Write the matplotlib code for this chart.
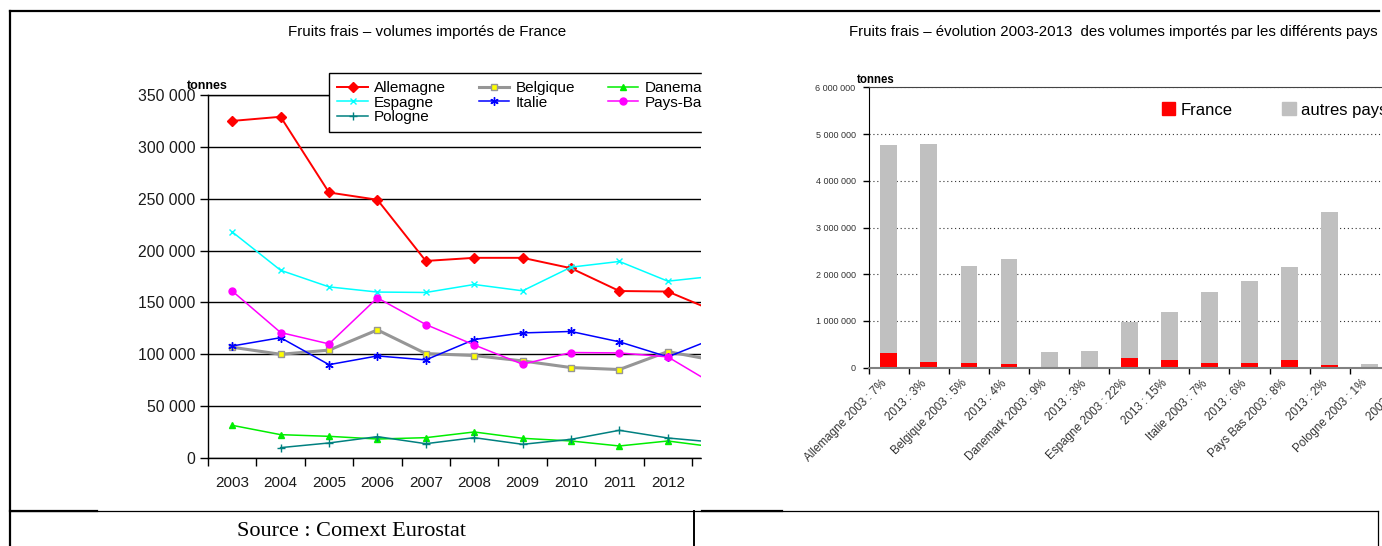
import matplotlib
matplotlib.use("Agg")
import matplotlib.pyplot as plt
import numpy as np
from matplotlib.lines import Line2D
from matplotlib.patches import Rectangle, Patch

W, H = 1382, 546

# left chart: volumes imported from France (tonnes)
years = [2003, 2004, 2005, 2006, 2007, 2008, 2009, 2010, 2011, 2012, 2013]
allemagne = [325000, 329000, 256000, 249000, 190000, 193000, 193000, 183000, 161000, 160500, 141000]
belgique = [106800, 100000, 104000, 123500, 100700, 98800, 93600, 87200, 85300, 102600, 93800]
danemark = [31500, 22500, 20900, 18300, 19600, 25100, 19000, 16400, 11600, 16400, 10400]
espagne = [218000, 181000, 165000, 160000, 159600, 167300, 161200, 184000, 189500, 170500, 175500]
italie = [108000, 116000, 90000, 98400, 94600, 114200, 120600, 122000, 112000, 97500, 116000]
pays_bas = [161000, 121000, 110000, 154400, 128700, 109000, 90400, 101700, 101300, 97500, 69700]
pologne = [np.nan, 10000, 14500, 20600, 13800, 19600, 13200, 18000, 26700, 19300, 15100]

# right chart: total imports per country, part coming from France
bar_labels = ["Allemagne 2003 : 7%", "2013 : 3%", "Belgique 2003 : 5%", "2013 : 4%",
              "Danemark 2003 : 9%", "2013 : 3%", "Espagne 2003 : 22%", "2013 : 15%",
              "Italie 2003 : 7%", "2013 : 6%", "Pays Bas 2003 : 8%", "2013 : 2%",
              "Pologne 2003 : 1%", "2003 : 1%"]
total = [4766000, 4787000, 2176000, 2326000, 335000, 357000, 977000, 1191000,
         1619000, 1855000, 2154000, 3332000, 80000, 1000000]
france = [320000, 130000, 95000, 88000, 25000, 8000, 200000, 165000,
          95000, 110000, 165000, 65000, 1000, 15000]

plt.rcParams["font.family"] = ["Liberation Sans", "DejaVu Sans"]

fig = plt.figure(figsize=(W / 100, H / 100), dpi=100)


def fx(x):
    return x / W


def fy(y):
    return 1 - y / H


def thousands(v):
    return "{:,}".format(int(v)).replace(",", " ")


# ---------------- left chart ----------------
ax1 = fig.add_axes([fx(208), 88 / H, (701 - 208) / W, 363 / H])
series = [
    ("Allemagne", allemagne, dict(color="#ff0000", marker="D", ms=5.5, lw=1.4)),
    ("Belgique", belgique, dict(color="#969696", marker="s", ms=4.5, lw=2.2,
                                mfc="#ffff00", mec="#969696", mew=1)),
    ("Danemark", danemark, dict(color="#00ee00", marker="^", ms=5, lw=1.1)),
    ("Espagne", espagne, dict(color="#00ffff", marker="x", ms=5, lw=1.1)),
    ("Italie", italie, dict(color="#0000ff", marker=(6, 2, 0), ms=6, lw=1.1)),
    ("Pays-Bas", pays_bas, dict(color="#ff00ff", marker="o", ms=5, lw=1.1)),
    ("Pologne", pologne, dict(color="#008080", marker="+", ms=6, lw=1.1)),
]
handles = {}
for name, vals, style in series:
    (ln,) = ax1.plot(years, vals, label=name, **style)
    handles[name] = ln

ax1.set_yticks(np.arange(0, 350001, 50000))
ax1.set_yticklabels([thousands(v) for v in np.arange(0, 350001, 50000)])
ax1.yaxis.grid(True, color="black", lw=1)
ax1.set_axisbelow(True)
ax1.set_xticks(np.arange(2002.5, 2013.6, 1))
ax1.set_xticklabels([])
ax1.set_xticks(years, minor=True)
ax1.set_xticklabels([str(y) for y in years], minor=True)
# the chart picture is cut a bit after 2012
ax1.set_xlim(2002.5, 2002.5 + (701 - 208) / 48.4)
ax1.set_ylim(0, 350000)
ax1.tick_params(axis="x", which="major", length=6, width=1, direction="out")
ax1.tick_params(axis="x", which="minor", length=0, pad=13, labelsize=11, labelcolor="#1a1a1a")
ax1.tick_params(axis="y", length=6, width=1, direction="out", pad=3, labelsize=11.3,
                labelcolor="#1a1a1a")
for side in ["left", "bottom", "top"]:
    ax1.spines[side].set_color("black")
    ax1.spines[side].set_linewidth(1)
ax1.spines["right"].set_visible(False)

order = ["Allemagne", "Espagne", "Pologne", "Belgique", "Italie", "Danemark", "Pays-Bas"]
leg = ax1.legend([handles[n] for n in order], order, ncol=3, loc="upper left",
                 bbox_to_anchor=(fx(329), fy(73)), bbox_transform=fig.transFigure,
                 fontsize=11, labelspacing=0.02, handlelength=2.0, handletextpad=0.4,
                 columnspacing=2.15, borderpad=0.55, borderaxespad=0, fancybox=False,
                 edgecolor="black", framealpha=1)
leg.get_frame().set_linewidth(1)

fig.text(fx(427), fy(32), "Fruits frais – volumes importés de France",
         ha="center", va="center", fontsize=10.9)
fig.text(fx(187), fy(86), "tonnes", ha="left", va="center", fontsize=9, weight="bold")

# ---------------- right chart ----------------
x = np.arange(len(bar_labels))
autres = np.array(total) - np.array(france)
ax2 = fig.add_axes([fx(868.8), 178.3 / H, 14 * 40.07 / W, 280.4 / H])
ax2.bar(x, france, width=0.42, color="#ff0000")
ax2.bar(x, autres, bottom=france, width=0.42, color="#c0c0c0")
yt = np.arange(0, 6000001, 1000000)
ax2.set_yticks(yt)
ax2.set_yticklabels([thousands(v) for v in yt])
ax2.yaxis.grid(True, color="#333333", lw=0.8, linestyle=(0, (1, 2.5)))
ax2.set_axisbelow(True)
ax2.set_xticks(np.arange(-0.5, 13.6, 1))
ax2.set_xticklabels([])
ax2.set_xticks(x, minor=True)
ax2.set_xticklabels(bar_labels, minor=True, rotation=45, ha="right")
ax2.set_xlim(-0.5, 13.5)
ax2.set_ylim(0, 6000000)
ax2.tick_params(axis="x", which="major", length=4, width=1, direction="out")
ax2.tick_params(axis="x", which="minor", length=0, pad=7, labelsize=8.4, labelcolor="#333333")
ax2.tick_params(axis="y", length=4, width=1, direction="out", pad=5.5, labelsize=6.5,
                labelcolor="#333333")
ax2.spines["left"].set_color("black")
ax2.spines["top"].set_color("#444444")
ax2.spines["top"].set_linewidth(0.8)
ax2.spines["bottom"].set_color("#808080")
ax2.spines["bottom"].set_linewidth(1.5)
ax2.spines["right"].set_visible(False)

fig.legend([Patch(color="#ff0000"), Patch(color="#c0c0c0")], ["France", "autres pays"],
           loc="center left", bbox_to_anchor=(fx(1162), fy(110)), ncol=2, frameon=False,
           fontsize=12, handlelength=0.8, handleheight=0.8, handletextpad=0.3,
           columnspacing=3.0, borderpad=0, borderaxespad=0)

fig.text(fx(1113), fy(32),
         "Fruits frais – évolution 2003-2013  des volumes importés par les différents pays",
         ha="center", va="center", fontsize=10.8)
fig.text(fx(857), fy(80), "tonnes", ha="left", va="center", fontsize=8.3, weight="bold")

# left chart image is cut on its right side
fig.add_artist(Rectangle((fx(702), fy(505)), (785 - 702) / W, (505 - 60) / H,
                         transform=fig.transFigure, color="white", zorder=5))

# ---------------- document table borders ----------------
def seg(x0, y0, x1, y1, lw):
    fig.add_artist(Line2D([fx(x0), fx(x1)], [fy(y0), fy(y1)], color="black", lw=lw,
                          transform=fig.transFigure, zorder=6))


seg(10, 11, 1379, 11, 1.6)
seg(10, 11, 10, 546, 1.6)
seg(10, 511, 1378, 511, 0.9)
seg(10, 510.5, 97, 510.5, 1.6)
seg(702, 510.5, 782, 510.5, 1.6)
seg(694, 511, 694, 546, 1.4)
seg(1378, 511, 1378, 546, 0.9)

fig.text(fx(352), fy(531), "Source : Comext Eurostat", ha="center", va="center",
         fontsize=16, family="Liberation Serif", zorder=6)

fig.savefig("out.png", dpi=100)
